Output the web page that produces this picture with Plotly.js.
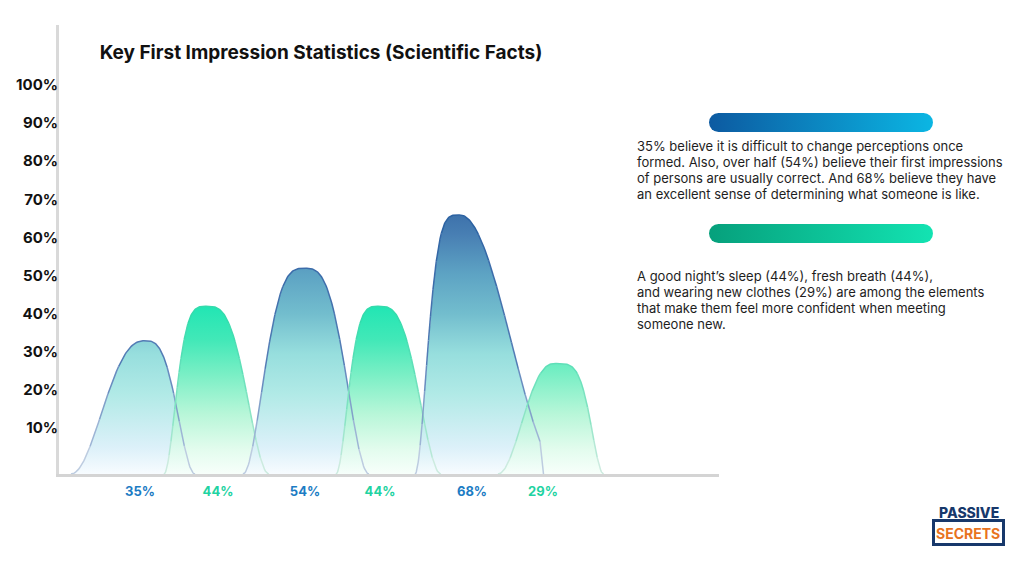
<!DOCTYPE html>
<html>
<head>
<meta charset="utf-8">
<script src="https://cdn.plot.ly/plotly-3.0.1.min.js"></script>
<style>html,body{margin:0;padding:0;background:#fff;}#chart{width:1021px;height:561px;}</style>
</head>
<body>
<div id="chart"></div>
<script>
// ---------- DATA ----------
const categories = ['35%', '44%', '54%', '44%', '68%', '29%'];
const values = [35, 44, 54, 44, 68, 29];
const series = ['blue', 'green', 'blue', 'green', 'blue', 'green'];
const yTickVals = [10, 20, 30, 40, 50, 60, 70, 80, 90, 100];
const yTickText = ['10%', '20%', '30%', '40%', '50%', '60%', '70%', '80%', '90%', '100%'];
const title = 'Key First Impression Statistics (Scientific Facts)';
const note1Lines = [
  '35% believe it is difficult to change perceptions once',
  'formed. Also, over half (54%) believe their first impressions',
  'of persons are usually correct. And 68% believe they have',
  'an excellent sense of determining what someone is like.'
];
const note2Lines = [
  'A good night\u2019s sleep (44%), fresh breath (44%),',
  'and wearing new clothes (29%) are among the elements',
  'that make them feel more confident when meeting',
  'someone new.'
];

// ---------- GEOMETRY / STYLE (x in axis units) ----------
const labelPos = [8.1, 15.9, 24.6, 32.1, 41.3, 48.4];
const bellGeom = [
  {c: 8.6,  WL: 7.4, qL: 1.2,  WR: 5.0,  qR: 1.5},
  {c: 14.9, WL: 4.4, qL: 2.0,  WR: 6.1,  qR: 1.47},
  {c: 24.6, WL: 6.2, qL: 1.6,  WR: 6.4,  qR: 1.5},
  {c: 32.1, WL: 4.4, qL: 2.0,  WR: 6.1,  qR: 1.47},
  {c: 40.1, WL: 4.5, qL: 2.0,  WR: 10.4, qR: 1.0, cutR: 8.0, footR: 8.35},
  {c: 49.6, WL: 5.7, qL: 1.2,  WR: 4.85, qR: 2.1}
];
const style = {
  blue: {
    labelColor: '#1c7cc4',
    fill: [[0, 'rgba(246,251,255,0.85)'], [0.1, 'rgba(214,238,248,0.85)'], [0.3, 'rgba(163,230,226,0.85)'],
           [0.45, 'rgba(134,217,216,0.86)'], [0.6, 'rgba(99,182,200,0.9)'], [0.75, 'rgba(81,156,191,0.93)'],
           [0.9, 'rgba(64,121,176,0.96)'], [1, 'rgba(53,106,166,0.98)']],
    stop: 70,
    line: [[0, [205, 216, 230]], [12, [150, 175, 210]], [30, [85, 125, 182]], [70, [40, 95, 160]]]
  },
  green: {
    labelColor: '#1fd3a2',
    fill: [[0, 'rgba(246,255,250,0.85)'], [0.15, 'rgba(221,251,234,0.85)'], [0.35, 'rgba(174,245,211,0.86)'],
           [0.6, 'rgba(105,237,190,0.9)'], [0.8, 'rgba(56,231,180,0.95)'], [1, 'rgba(29,229,178,0.98)']],
    stop: 44,
    line: [[0, [215, 236, 228]], [15, [140, 228, 196]], [44, [45, 218, 170]]]
  }
};

const L = 59, R = 719, T = 25, B = 474, W = 1021, H = 561;
const pxPerUnit = 3.81;
const yMax = (B - T) / pxPerUnit;
const px = v => (v - L) / (R - L);
const py = v => (B - v) / (B - T);

function bellPoints(g, h) {
  const N = 70;
  const side = (Wd, q, cut, foot, sign) => {
    const lim = cut || Wd;
    const pts = [];
    if (cut) pts.push([g.c + sign * (foot || cut), 0]);
    for (let i = 0; i <= N; i++) {
      const d = lim * (1 - i / N);
      const x = Math.min(1, Math.pow(d / Wd, q));
      const drop = (1 - Math.cos(Math.PI * x)) / 2;
      pts.push([g.c + sign * d, h * (1 - drop)]);
    }
    return pts;
  };
  const left = side(g.WL, g.qL, g.cutL, g.footL, -1);
  const right = side(g.WR, g.qR, g.cutR, g.footR, 1).reverse();
  right.shift();
  const all = left.concat(right);
  return {xs: all.map(p => p[0]), ys: all.map(p => p[1])};
}

function lineColor(stops, v) {
  for (let i = 1; i < stops.length; i++) {
    if (v <= stops[i][0] || i === stops.length - 1) {
      const a = stops[i - 1], b = stops[i];
      let t = (v - a[0]) / (b[0] - a[0]);
      t = Math.max(0, Math.min(1, t));
      const c = a[1].map((x, k) => Math.round(x + (b[1][k] - x) * t));
      return 'rgb(' + c.join(',') + ')';
    }
  }
}

const fills = [], lines = [];
values.forEach((v, i) => {
  const s = style[series[i]];
  const pts = bellPoints(bellGeom[i], v);
  fills.push({
    type: 'scatter', mode: 'lines', x: pts.xs, y: pts.ys,
    fill: 'tozeroy', line: {width: 0},
    fillgradient: {type: 'vertical', colorscale: s.fill, start: 0, stop: s.stop},
    hoverinfo: 'skip', showlegend: false
  });
  const nb = 10, bandH = s.stop / nb;
  for (let b = 0; b < nb; b++) {
    const bx = [], by = [];
    let prevIn = false;
    for (let k = 0; k < pts.xs.length - 1; k++) {
      const mid = (pts.ys[k] + pts.ys[k + 1]) / 2;
      const idx = Math.min(nb - 1, Math.floor(mid / bandH));
      const inBand = idx === b;
      if (inBand) {
        if (!prevIn) { if (bx.length) { bx.push(null); by.push(null); } bx.push(pts.xs[k]); by.push(pts.ys[k]); }
        bx.push(pts.xs[k + 1]); by.push(pts.ys[k + 1]);
      }
      prevIn = inBand;
    }
    if (bx.length) {
      lines.push({
        type: 'scatter', mode: 'lines', x: bx, y: by, connectgaps: false,
        line: {width: 1.5, color: lineColor(s.line, (b + 0.5) * bandH)},
        hoverinfo: 'skip', showlegend: false
      });
    }
  }
});

const tickText = categories.map((c, i) => '<span style="color:' + style[series[i]].labelColor + '">' + c + '</span>');

function pill(c1, c2) {
  const svg = "<svg xmlns='http://www.w3.org/2000/svg' width='224' height='19' viewBox='0 0 224 19'>" +
    "<defs><linearGradient id='g' x1='0' x2='1' y1='0' y2='0'><stop offset='0' stop-color='" + c1 + "'/>" +
    "<stop offset='1' stop-color='" + c2 + "'/></linearGradient></defs>" +
    "<rect x='0' y='0' width='224' height='19' rx='9.5' ry='9.5' fill='url(#g)'/></svg>";
  return 'data:image/svg+xml;base64,' + btoa(svg);
}

const textFont = {family: 'Inter', size: 13, color: '#1e1e1e'};
const noteAnn = (linesArr, y0) => linesArr.map((t, k) => ({
  text: t, xref: 'paper', yref: 'paper', x: px(635), y: py(y0 + k * 16), xanchor: 'left', yanchor: 'middle',
  align: 'left', showarrow: false, font: textFont
}));

const layout = {
  width: W, height: H,
  margin: {l: L, r: W - R, t: T, b: H - B, pad: 0},
  paper_bgcolor: '#ffffff', plot_bgcolor: '#ffffff',
  title: {
    text: title, xref: 'container', yref: 'container',
    x: 321 / W, xanchor: 'center', y: 1 - 52 / H, yanchor: 'middle',
    font: {family: 'Inter', size: 19, weight: 700, color: '#111111'}
  },
  xaxis: {
    range: [0, 66], showgrid: false, zeroline: false,
    showline: true, linecolor: '#d4d4d4', linewidth: 3,
    tickmode: 'array', tickvals: labelPos, ticktext: tickText, ticks: '',
    tickfont: {family: 'Inter', size: 13, weight: 700},
    ticklabelstandoff: 3, fixedrange: true
  },
  yaxis: {
    range: [0, yMax], showgrid: false, zeroline: false,
    showline: true, linecolor: '#d9d9d9', linewidth: 3,
    tickmode: 'array', tickvals: yTickVals, ticktext: yTickText, ticks: '',
    tickfont: {family: 'Inter', size: 15, weight: 700, color: '#111111'},
    ticklabelshift: -8, ticklabelstandoff: -5, fixedrange: true
  },
  images: [
    {source: pill('#0c5aa1', '#0bb6e3'), xref: 'paper', yref: 'paper', x: px(709), y: py(113),
     sizex: 224 / (R - L), sizey: 19 / (B - T), sizing: 'stretch', xanchor: 'left', yanchor: 'top', layer: 'above'},
    {source: pill('#06a07c', '#13e3b2'), xref: 'paper', yref: 'paper', x: px(709), y: py(224),
     sizex: 224 / (R - L), sizey: 19 / (B - T), sizing: 'stretch', xanchor: 'left', yanchor: 'top', layer: 'above'}
  ],
  shapes: [
    {type: 'rect', xref: 'paper', yref: 'paper', x0: px(933.5), x1: px(1003.5), y0: py(544.5), y1: py(520.5),
     line: {color: '#17386b', width: 3}, fillcolor: '#ffffff'}
  ],
  annotations: noteAnn(note1Lines, 146).concat(noteAnn(note2Lines, 276)).concat([
    {text: 'PASSIVE', xref: 'paper', yref: 'paper', x: px(969), y: py(512), xanchor: 'center', yanchor: 'middle',
     showarrow: false, font: {family: 'Inter', size: 14, weight: 800, color: '#17386b'}},
    {text: 'SECRETS', xref: 'paper', yref: 'paper', x: px(968.5), y: py(533), xanchor: 'center', yanchor: 'middle',
     showarrow: false, font: {family: 'Inter', size: 14, weight: 700, color: '#e8731e'}}
  ]),
  hovermode: false, showlegend: false
};

Plotly.newPlot('chart', fills.concat(lines), layout, {displayModeBar: false, staticPlot: true});
</script>
</body>
</html>
